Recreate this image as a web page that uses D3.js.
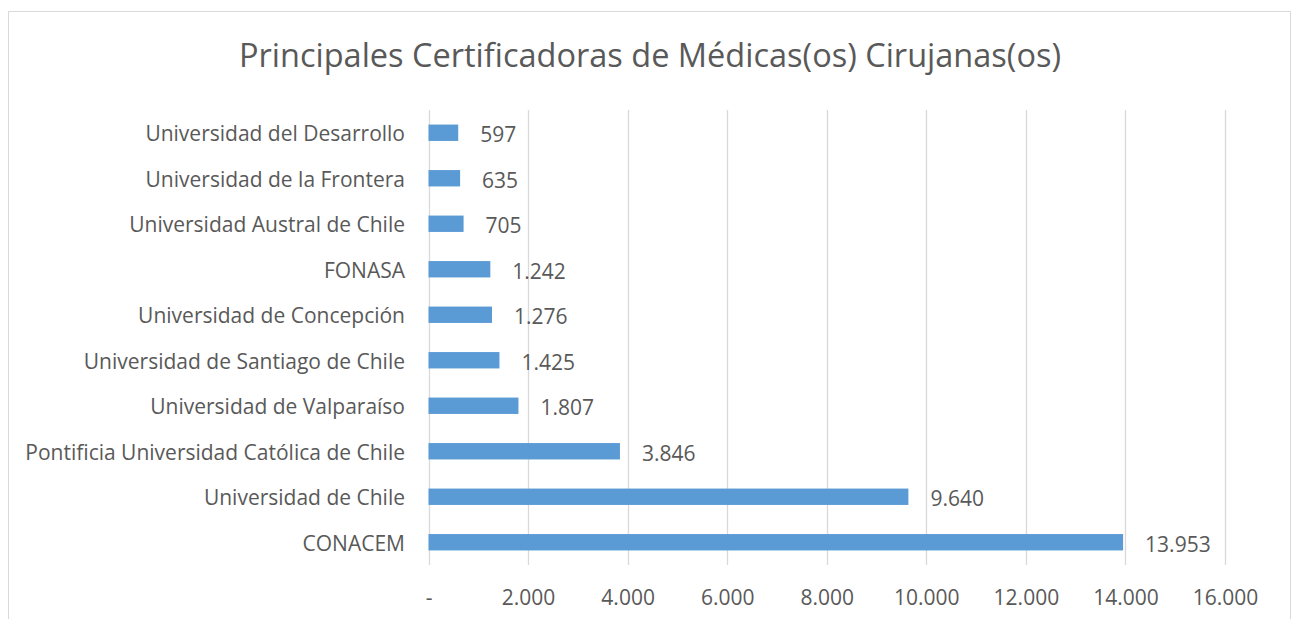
<!DOCTYPE html>
<html>
<head>
<meta charset="utf-8">
<script src="https://cdn.jsdelivr.net/npm/d3@7"></script>
<style>
  body { margin: 0; background: #fff; }
  text { font-family: "Open Sans", Lato, sans-serif; fill: #595959; }
</style>
</head>
<body>
<div id="chart"></div>
<script>
"use strict";

var categories = [
  "Universidad del Desarrollo",
  "Universidad de la Frontera",
  "Universidad Austral de Chile",
  "FONASA",
  "Universidad de Concepción",
  "Universidad de Santiago de Chile",
  "Universidad de Valparaíso",
  "Pontificia Universidad Católica de Chile",
  "Universidad de Chile",
  "CONACEM"
];
var values = [597, 635, 705, 1242, 1276, 1425, 1807, 3846, 9640, 13953];
var ticks = [0, 2000, 4000, 6000, 8000, 10000, 12000, 14000, 16000];
var title = "Principales Certificadoras de Médicas(os) Cirujanas(os)";

var width = 1292;
var height = 619;
var BAR_COLOR = '#5B9BD5';
var GRID_COLOR = '#D9D9D9';
var TEXT_COLOR = '#595959';

// Excel style: "." thousands separator, "-" for zero
function fmt(v) {
  if (v === 0) return "-";
  return d3.format(",")(v).replace(/,/g, ".");
}

var svg = d3.select("#chart")
  .append("svg")
  .attr("width", width)
  .attr("height", height);

// chart frame
svg.append("rect")
  .attr("x", 8.5).attr("y", 11.5)
  .attr("width", 1282).attr("height", 640)
  .attr("fill", "none")
  .attr("stroke", GRID_COLOR);

svg.append("text")
  .attr("x", 650)
  .attr("y", 56)
  .attr("dy", "0.35em")
  .attr("text-anchor", "middle")
  .attr("font-size", 32.5)
  .text(title);

var x = d3.scaleLinear().domain([0, 16000]).range([428.5, 1225]);
var y = d3.scaleBand().domain(categories).range([110, 565]).paddingInner(0.64).paddingOuter(0.32);

// gridlines
svg.append("g")
  .selectAll("line")
  .data(ticks)
  .enter()
  .append("line")
  .attr("x1", function(d) { return Math.round(x(d)) + 0.5; })
  .attr("x2", function(d) { return Math.round(x(d)) + 0.5; })
  .attr("y1", 110)
  .attr("y2", 565)
  .attr("stroke", GRID_COLOR)
  .attr("stroke-width", 1.3);

// x tick labels
var xAxis = d3.axisBottom(x).tickValues(ticks).tickFormat(fmt).tickSize(0).tickPadding(0);
var gx = svg.append("g").attr("transform", "translate(0,597.5)").call(xAxis);
gx.select(".domain").remove();
gx.attr("font-family", null);
gx.selectAll("text")
  .attr("dy", "0.35em")
  .attr("y", 0)
  .attr("font-size", 21)
  .attr("fill", TEXT_COLOR);

// category labels
var yAxis = d3.axisLeft(y).tickSize(0).tickPadding(0);
var gy = svg.append("g").attr("transform", "translate(405,2)").call(yAxis);
gy.select(".domain").remove();
gy.attr("font-family", null);
gy.selectAll("text")
  .attr("font-size", 21)
  .attr("fill", TEXT_COLOR);

// bars
svg.append("g")
  .selectAll("rect")
  .data(values)
  .enter()
  .append("rect")
  .attr("x", x(0))
  .attr("y", function(d, i) { return y(categories[i]); })
  .attr("width", function(d) { return x(d) - x(0); })
  .attr("height", y.bandwidth())
  .attr("fill", BAR_COLOR);

// value labels
svg.append("g")
  .selectAll("text")
  .data(values)
  .enter()
  .append("text")
  .attr("x", function(d) { return x(d) + 22; })
  .attr("y", function(d, i) { return y(categories[i]) + y.bandwidth() / 2 + 2; })
  .attr("dy", "0.35em")
  .attr("font-size", 21)
  .text(fmt);
</script>
</body>
</html>
